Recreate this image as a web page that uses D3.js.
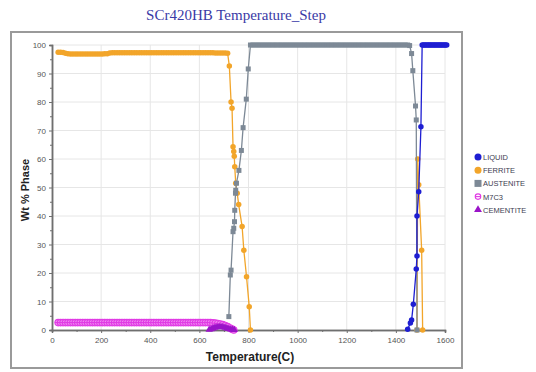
<!DOCTYPE html>
<html>
<head>
<meta charset="utf-8">
<script src="https://cdn.jsdelivr.net/npm/d3@7"></script>
<style>
  html, body { margin: 0; padding: 0; background: #fff; }
  svg { display: block; }
</style>
</head>
<body>
<svg id="chart" width="536" height="372"></svg>
<script>
// Phase fractions (wt %) against temperature (°C), one [T, value] list per phase.
const liquid = [
  [1448, 0.3], [1459, 2.5], [1464, 3.5], [1471, 9], [1483, 21.4], [1486, 26], [1486, 40],
  [1493, 48.5], [1502, 71.3], [1507, 100], [1512, 100], [1517, 100], [1522, 100],
  [1527, 100], [1532, 100], [1537, 100], [1542, 100], [1547, 100], [1552, 100], [1557, 100],
  [1562, 100], [1567, 100], [1572, 100], [1577, 100], [1582, 100], [1587, 100], [1592, 100],
  [1597, 100], [1602, 100], [1607, 100]
];

const ferrite = [
  [25, 97.5], [35, 97.5], [45, 97.4], [55, 97.1], [65, 96.9], [75, 96.8], [85, 96.8],
  [95, 96.8], [105, 96.8], [115, 96.8], [125, 96.8], [135, 96.8], [145, 96.8], [155, 96.8],
  [165, 96.8], [175, 96.8], [185, 96.8], [195, 96.8], [205, 96.8], [215, 96.9], [225, 96.9],
  [235, 97.2], [245, 97.3], [255, 97.3], [265, 97.3], [275, 97.3], [285, 97.3], [295, 97.3],
  [305, 97.3], [315, 97.3], [325, 97.3], [335, 97.3], [345, 97.3], [355, 97.3], [365, 97.3],
  [375, 97.3], [385, 97.3], [395, 97.3], [405, 97.3], [415, 97.3], [425, 97.3], [435, 97.3],
  [445, 97.3], [455, 97.3], [465, 97.3], [475, 97.3], [485, 97.3], [495, 97.3], [505, 97.3],
  [515, 97.3], [525, 97.3], [535, 97.3], [545, 97.3], [555, 97.3], [565, 97.3], [575, 97.3],
  [585, 97.3], [595, 97.3], [605, 97.3], [615, 97.3], [625, 97.3], [635, 97.3], [645, 97.3],
  [655, 97.3], [665, 97.2], [675, 97.2], [685, 97.2], [695, 97.2], [705, 97.2], [715, 97.1],
  [722, 92.6], [729, 80], [733, 77.8], [737, 64.3], [740, 62.6], [742, 61],
  [744, 57.3], [748, 51.5], [754, 48], [760, 44], [774, 36.3], [781, 28], [792, 18.7],
  [803, 8.2], [808, 0],
  null,
  [1486, 0], [1489, 60], [1493, 51], [1505, 28], [1509, 0]
];

const austenite = [
  [720, 4.7], [726, 19.3], [729, 21], [737, 34.5], [740, 35.7], [743, 38], [744, 42],
  [747, 48], [748, 49], [751, 51.5], [761, 56], [771, 63], [778, 71], [791, 81], [799, 91.6],
  [808, 100], [818, 100], [828, 100], [838, 100], [848, 100], [858, 100], [868, 100],
  [878, 100], [888, 100], [898, 100], [908, 100], [918, 100], [928, 100], [938, 100],
  [948, 100], [958, 100], [968, 100], [978, 100], [988, 100], [998, 100], [1008, 100],
  [1018, 100], [1028, 100], [1038, 100], [1048, 100], [1058, 100], [1068, 100], [1078, 100],
  [1088, 100], [1098, 100], [1108, 100], [1118, 100], [1128, 100], [1138, 100], [1148, 100],
  [1158, 100], [1168, 100], [1178, 100], [1188, 100], [1198, 100], [1208, 100], [1218, 100],
  [1228, 100], [1238, 100], [1248, 100], [1258, 100], [1268, 100], [1278, 100], [1288, 100],
  [1298, 100], [1308, 100], [1318, 100], [1328, 100], [1338, 100], [1348, 100], [1358, 100],
  [1368, 100], [1378, 100], [1388, 100], [1398, 100], [1408, 100], [1418, 100], [1428, 100],
  [1438, 100], [1448, 100], [1456, 99.8],
  [1464, 97], [1469, 91], [1480, 78.6], [1483, 73.7], [1486, 0]
];

const m7c3 = [
  [25, 2.6], [35, 2.6], [45, 2.6], [55, 2.6], [65, 2.6], [75, 2.6], [85, 2.6], [95, 2.6],
  [105, 2.6], [115, 2.6], [125, 2.6], [135, 2.6], [145, 2.6], [155, 2.6], [165, 2.6],
  [175, 2.6], [185, 2.6], [195, 2.6], [205, 2.6], [215, 2.6], [225, 2.6], [235, 2.6],
  [245, 2.6], [255, 2.6], [265, 2.6], [275, 2.6], [285, 2.6], [295, 2.6], [305, 2.6],
  [315, 2.6], [325, 2.6], [335, 2.6], [345, 2.6], [355, 2.6], [365, 2.6], [375, 2.6],
  [385, 2.6], [395, 2.6], [405, 2.6], [415, 2.6], [425, 2.6], [435, 2.6], [445, 2.6],
  [455, 2.6], [465, 2.6], [475, 2.6], [485, 2.6], [495, 2.6], [505, 2.6], [515, 2.6],
  [525, 2.6], [535, 2.6], [545, 2.6], [555, 2.6], [565, 2.6], [575, 2.6], [585, 2.6],
  [595, 2.6], [605, 2.6], [615, 2.6], [625, 2.6], [635, 2.6], [645, 2.6], [655, 2.5],
  [665, 2.4], [675, 2.3], [685, 2.1], [695, 1.9], [705, 1.6], [715, 1.2], [725, 0.7],
  [733, 0.3], [740, 0]
];

const cementite = [
  [640, 0.1], [648, 0.3], [656, 0.6], [664, 0.8], [672, 1.0], [680, 1.1], [688, 1.1],
  [696, 1.0], [704, 0.8], [712, 0.6], [720, 0.4], [728, 0.2], [735, 0.1], [742, 0]
];

const xTicks = [0, 200, 400, 600, 800, 1000, 1200, 1400, 1600];
const yTicks = [0, 10, 20, 30, 40, 50, 60, 70, 80, 90, 100];
const legendNames = ["LIQUID", "FERRITE", "AUSTENITE", "M7C3", "CEMENTITE"];

const svg = d3.select("#chart");

// Outer frame
svg.append("rect")
  .attr("x", 11).attr("y", 32).attr("width", 451).attr("height", 336)
  .attr("fill", "#fff").attr("stroke", "#9a9a9a").attr("stroke-width", 2);

// Title
svg.append("text")
  .attr("x", 236).attr("y", 20)
  .attr("text-anchor", "middle")
  .attr("font-family", "'Liberation Serif', 'Times New Roman', serif")
  .attr("font-size", 15)
  .attr("fill", "#3a3aa6")
  .text("SCr420HB Temperature_Step");

const x = d3.scaleLinear().domain([0, 1600]).range([52, 445]);
const y = d3.scaleLinear().domain([0, 100]).range([330, 45]);

// Grid
const grid = svg.append("g");
grid.selectAll(".gx").data(xTicks.filter(d => d > 0)).join("line")
  .attr("x1", d => x(d)).attr("x2", d => x(d))
  .attr("y1", y(0)).attr("y2", y(100))
  .attr("stroke", "#e6e6e6").attr("stroke-width", 1);
grid.selectAll(".gy").data(yTicks.filter(d => d > 0)).join("line")
  .attr("x1", x(0)).attr("x2", x(1600))
  .attr("y1", d => y(d)).attr("y2", d => y(d))
  .attr("stroke", "#e6e6e6").attr("stroke-width", 1);

// Axes
const axisFont = "'Liberation Sans', Arial, sans-serif";
const xAxis = svg.append("g")
  .attr("transform", `translate(0,${y(0)})`)
  .call(d3.axisBottom(x).tickValues(xTicks).tickSize(3).tickPadding(4).tickFormat(d3.format("d")));
const xMinor = svg.append("g")
  .attr("transform", `translate(0,${y(0)})`)
  .call(d3.axisBottom(x).tickValues(d3.range(100, 1600, 200)).tickSize(2).tickFormat(""));
const yAxis = svg.append("g")
  .attr("transform", `translate(${x(0)},0)`)
  .call(d3.axisLeft(y).tickValues(yTicks).tickSize(3).tickPadding(3).tickFormat(d3.format("d")));
const yMinor = svg.append("g")
  .attr("transform", `translate(${x(0)},0)`)
  .call(d3.axisLeft(y).tickValues(d3.range(5, 100, 10)).tickSize(2).tickFormat(""));

[xAxis, xMinor, yAxis, yMinor].forEach(g => {
  g.select(".domain").attr("stroke", "#6f6f6f").attr("stroke-width", 1.5);
  g.selectAll(".tick line").attr("stroke", "#6f6f6f");
  g.selectAll(".tick text")
    .attr("font-family", axisFont).attr("font-size", 8).attr("fill", "#555");
});

// Axis titles
svg.append("text")
  .attr("x", 250).attr("y", 361)
  .attr("text-anchor", "middle")
  .attr("font-family", axisFont).attr("font-weight", "bold")
  .attr("font-size", 12).attr("fill", "#222")
  .text("Temperature(C)");
svg.append("text")
  .attr("transform", "translate(29,190) rotate(-90)")
  .attr("text-anchor", "middle")
  .attr("font-family", axisFont).attr("font-weight", "bold")
  .attr("font-size", 11).attr("fill", "#222")
  .text("Wt % Phase");

// Series drawing
const line = d3.line()
  .defined(d => d !== null)
  .x(d => x(d[0])).y(d => y(d[1]));

const series = [
  { name: "M7C3", data: m7c3, color: "#e03ae4", shape: "ocircle", size: 7.5 },
  { name: "CEMENTITE", data: cementite, color: "#9a14c8", shape: "triangle", size: 6.5 },
  { name: "FERRITE", data: ferrite, color: "#f2a52a", shape: "circle", size: 5.5 },
  { name: "AUSTENITE", data: austenite, color: "#7d8996", shape: "square", size: 5 },
  { name: "LIQUID", data: liquid, color: "#1e1ed2", shape: "circle", size: 5.5 }
];

function drawMarker(g, shape, color, cx, cy, s, fillOpen) {
  if (shape === "circle") {
    g.append("circle").attr("cx", cx).attr("cy", cy).attr("r", s / 2).attr("fill", color);
  } else if (shape === "square") {
    g.append("rect").attr("x", cx - s / 2).attr("y", cy - s / 2)
      .attr("width", s).attr("height", s).attr("fill", color);
  } else if (shape === "triangle") {
    g.append("path")
      .attr("d", d3.symbol(d3.symbolTriangle, s * s * 0.55)())
      .attr("transform", `translate(${cx},${cy})`).attr("fill", color);
  } else if (shape === "ocircle") {
    g.append("circle").attr("cx", cx).attr("cy", cy).attr("r", s / 2 - 0.5)
      .attr("fill", fillOpen || "none").attr("stroke", color).attr("stroke-width", 1.1);
    g.append("line").attr("x1", cx - s / 2 + 0.5).attr("x2", cx + s / 2 - 0.5)
      .attr("y1", cy).attr("y2", cy).attr("stroke", color).attr("stroke-width", 1.1);
  }
}

series.forEach(s => {
  const g = svg.append("g");
  g.append("path").datum(s.data)
    .attr("d", line).attr("fill", "none")
    .attr("stroke", s.color).attr("stroke-width", 1.3);
  s.data.filter(d => d !== null).forEach(d => {
    drawMarker(g, s.shape, s.color, x(d[0]), y(d[1]), s.size,
      s.shape === "ocircle" ? "#f08af2" : null);
  });
});

// Legend
const legendStyle = {
  LIQUID: ["#1e1ed2", "circle"], FERRITE: ["#f2a52a", "circle"],
  AUSTENITE: ["#7d8996", "square"], M7C3: ["#e03ae4", "ocircle"],
  CEMENTITE: ["#9a14c8", "triangle"]
};
const legend = svg.append("g");
legendNames.forEach((n, i) => {
  const cy = 157 + i * 13.2;
  const [c, shp] = legendStyle[n];
  drawMarker(legend, shp, c, 478, cy, shp === "ocircle" ? 6.5 : 7, null);
  legend.append("text")
    .attr("x", 483).attr("y", cy + 3)
    .attr("font-family", axisFont).attr("font-size", 7.5)
    .attr("fill", "#3c3c50")
    .text(n);
});
</script>
</body>
</html>
